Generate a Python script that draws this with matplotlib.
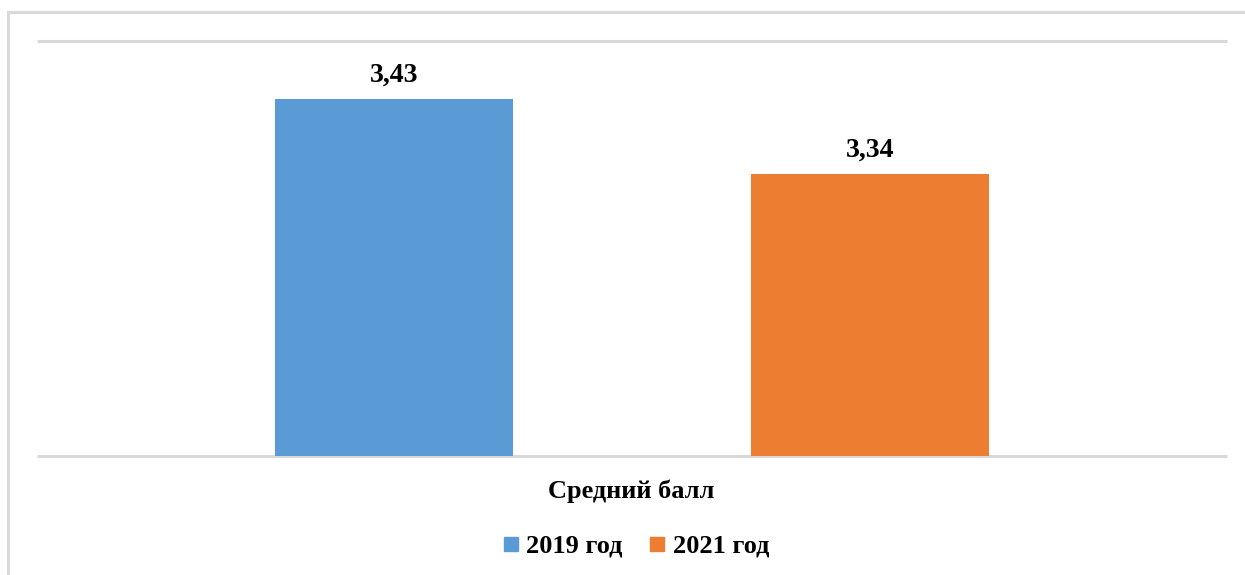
from matplotlib import pyplot as plt
from matplotlib.patches import Rectangle
from matplotlib.lines import Line2D

# data
category = "Средний балл"
series_names = ["2019 год", "2021 год"]
values = [3.43, 3.34]
value_labels = ["3,43", "3,34"]
colors = ["#5B9BD5", "#ED7D31"]

plt.rcParams['font.family'] = ['Liberation Serif', 'DejaVu Serif']

fig = plt.figure(figsize=(12.45, 5.75), dpi=100)
W, H = 1245, 575

# outer chart frame (cut by the image at right and bottom)
fig.patches.append(Rectangle((8 / W, -0.05), 1.1, 1 - 12 / H + 0.05,
                             transform=fig.transFigure, fill=False,
                             edgecolor='#D9D9D9', linewidth=2.2))

ax = fig.add_axes([37 / W, 1 - 456 / H, (1227 - 37) / W, (456 - 41) / H])

width = 0.2
offsets = [-0.2, 0.2]
for i in range(len(values)):
    ax.bar(offsets[i], values[i], width=width, color=colors[i], bottom=0,
           zorder=2)
    ax.text(offsets[i], values[i] + 0.014, value_labels[i], ha='center',
            va='bottom', fontsize=20, fontweight='bold')

ax.set_xlim(-0.5, 0.5)
ax.set_ylim(3.0, 3.5)
ax.set_yticks([3.0, 3.5])
ax.yaxis.grid(True, color='#D9D9D9', linewidth=2.2)
for gl in ax.get_ygridlines():
    gl.set_clip_on(False)
    gl.set_solid_capstyle('butt')
ax.set_axisbelow(True)
ax.tick_params(left=False, bottom=False, labelleft=False, labelbottom=False)
for s in ax.spines.values():
    s.set_visible(False)

fig.text(631 / W, 1 - 491 / H, category, ha='center', va='center',
         fontsize=19, fontweight='bold')

handles = [Line2D([], [], marker='s', linestyle='none', markersize=9.5,
                  markerfacecolor=c, markeredgecolor=c) for c in colors]
fig.legend(handles, series_names, loc='center', bbox_to_anchor=(636 / W, 1 - 546 / H),
           ncol=2, frameon=False, handletextpad=0.3, columnspacing=1.0,
           handlelength=0.6, prop={'size': 19, 'weight': 'bold'})

fig.savefig('out.png', dpi=100)
